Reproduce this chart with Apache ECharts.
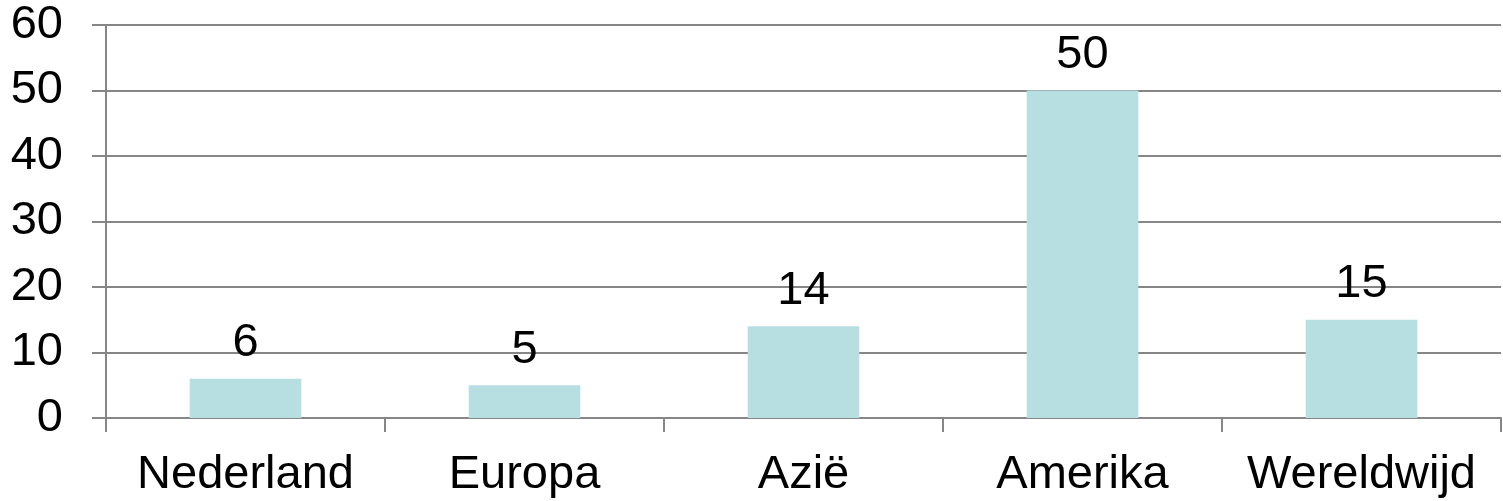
<!DOCTYPE html>
<html>
<head>
<meta charset="utf-8">
<script src="https://cdn.jsdelivr.net/npm/echarts@6/dist/echarts.min.js"></script>
<style>
	html, body {margin: 0; padding: 0; background: #fff}
	#chart {width: 1503px; height: 501px}
</style>
</head>
<body>
<div id="chart"></div>
<script>
let categories = ["Nederland", "Europa", "Azië", "Amerika", "Wereldwijd"]
let values = [6, 5, 14, 50, 15]
let yTicks = [0, 10, 20, 30, 40, 50, 60]

let font = "Liberation Sans, Arial, sans-serif"
let chart = echarts.init(document.getElementById("chart"))

let option = {
	animation: false,
	grid: {
		left: 106,
		right: 2,
		top: 25,
		bottom: 83
	},
	xAxis: {
		type: "category",
		data: categories,
		axisLine: {lineStyle: {color: "#868686", width: 2}},
		axisTick: {show: true, interval: 0, length: 14, lineStyle: {color: "#868686", width: 2}},
		axisLabel: {
			interval: 0,
			hideOverlap: false,
			color: "#000",
			fontFamily: font,
			fontSize: 47,
			margin: 34
		}
	},
	yAxis: {
		type: "value",
		min: yTicks[0],
		max: yTicks[yTicks.length - 1],
		interval: 10,
		axisLine: {show: true, lineStyle: {color: "#868686", width: 2}},
		axisTick: {show: true, length: 14, lineStyle: {color: "#868686", width: 2}},
		splitLine: {lineStyle: {color: "#868686", width: 2}},
		axisLabel: {
			color: "#000",
			fontFamily: font,
			fontSize: 47,
			margin: 43
		}
	},
	series: [
		{
			type: "bar",
			data: values,
			barWidth: "40%",
			itemStyle: {color: "#b7dfe2"},
			label: {
				show: true,
				position: "top",
				distance: 12,
				color: "#000",
				fontFamily: font,
				fontSize: 47
			}
		}
	]
}
chart.setOption(option)
window.onresize = chart.resize
</script>
</body>
</html>
